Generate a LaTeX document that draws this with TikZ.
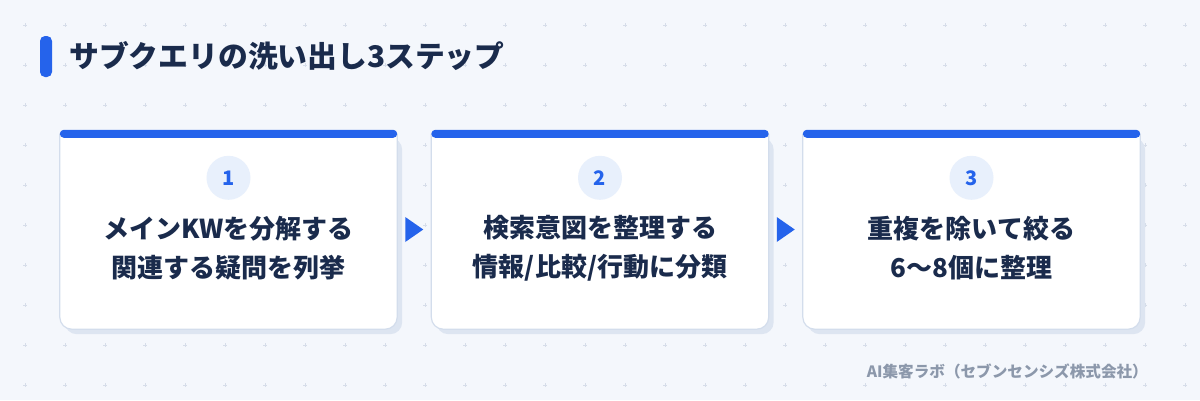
\documentclass[tikz,border=0pt]{standalone}
\usepackage{fontspec}
\setmainfont{Noto Sans CJK JP}
\usetikzlibrary{calc}
\definecolor{bg}{HTML}{F4F7FC}
\definecolor{accent}{HTML}{2563EB}
\definecolor{ink}{HTML}{1A2B4C}
\definecolor{cardline}{HTML}{D3DDEC}
\definecolor{cardshadow}{HTML}{DDE5F1}
\definecolor{numfill}{HTML}{E8F0FC}
\definecolor{dotc}{HTML}{D6DDE9}
\definecolor{footc}{HTML}{8C98AB}
\begin{document}
\begin{tikzpicture}[x=1pt,y=-1pt,
  cardbox/.style={minimum width=337pt,minimum height=199pt,inner sep=0pt,draw=none},
  numbox/.style={circle,fill=numfill,minimum size=44pt,inner sep=0pt,text=accent,font=\bfseries\fontsize{20}{20}\selectfont},
  stepline/.style={align=center,text=ink,font=\bfseries\fontsize{26}{39}\selectfont},
  plus/.style={dotc,line width=0.8pt}]
\useasboundingbox (0,0) rectangle (1200,400);
\fill[bg] (0,0) rectangle (1200,400);
% grid of small pluses
\foreach \gx in {25,65,...,1185}{
  \foreach \gy in {25,65,...,385}{
    \draw[plus] (\gx-2,\gy) -- (\gx+2,\gy) (\gx,\gy-2) -- (\gx,\gy+2);
  }
}
% title
\fill[accent,rounded corners=5pt] (40,36) rectangle (52,77);
\node[anchor=west,text=ink,font=\bfseries\fontsize{29.8}{29.8}\selectfont,inner sep=0pt] (title) at (69,56) {サブクエリの洗い出し3ステップ};
% cards
\node[cardbox] (c1) at (228.5,229.5) {};
\node[cardbox] (c2) at (600,229.5) {};
\node[cardbox] (c3) at (971.5,229.5) {};
\foreach \c in {c1,c2,c3}{
  \fill[cardshadow,rounded corners=12pt] ($(\c.north west)+(5,8)$) rectangle ($(\c.south east)+(5,5)$);
  \filldraw[fill=white,draw=cardline,line width=1.2pt,rounded corners=12pt]
    ($(\c.north west)+(0,4)$) -- (\c.south west) -- (\c.south east) -- ($(\c.north east)+(0,4)$);
  \fill[accent,rounded corners=4pt] (\c.north west) rectangle ($(\c.north east)+(0,8)$);
}
% numbers
\node[numbox] (n1) at ($(c1.north)+(0,48)$) {1};
\node[numbox] (n2) at ($(c2.north)+(0,48)$) {2};
\node[numbox] (n3) at ($(c3.north)+(0,48)$) {3};
% texts
\node[stepline] (t1) at ($(c1.north)+(0,118)$) {メインKWを分解する\\関連する疑問を列挙};
\node[stepline] (t2) at ($(c2.north)+(0,118)$) {検索意図を整理する\\情報/比較/行動に分類};
\node[stepline] (t3) at ($(c3.north)+(0,118)$) {重複を除いて絞る\\6〜8個に整理};
% connectors
\coordinate (m1) at ($(c1.east)!0.5!(c2.west)$);
\coordinate (m2) at ($(c2.east)!0.5!(c3.west)$);
\foreach \m in {m1,m2}{
  \fill[accent] ($(\m)+(-9,-12.5)$) -- ($(\m)+(9,0)$) -- ($(\m)+(-9,12.5)$) -- cycle;
}
% footer
\node[anchor=east,text=footc,font=\bfseries\fontsize{15.6}{15.6}\selectfont,inner sep=0pt] (foot) at (1148,371) {AI集客ラボ（セブンセンシズ株式会社）};
\end{tikzpicture}
\end{document}
